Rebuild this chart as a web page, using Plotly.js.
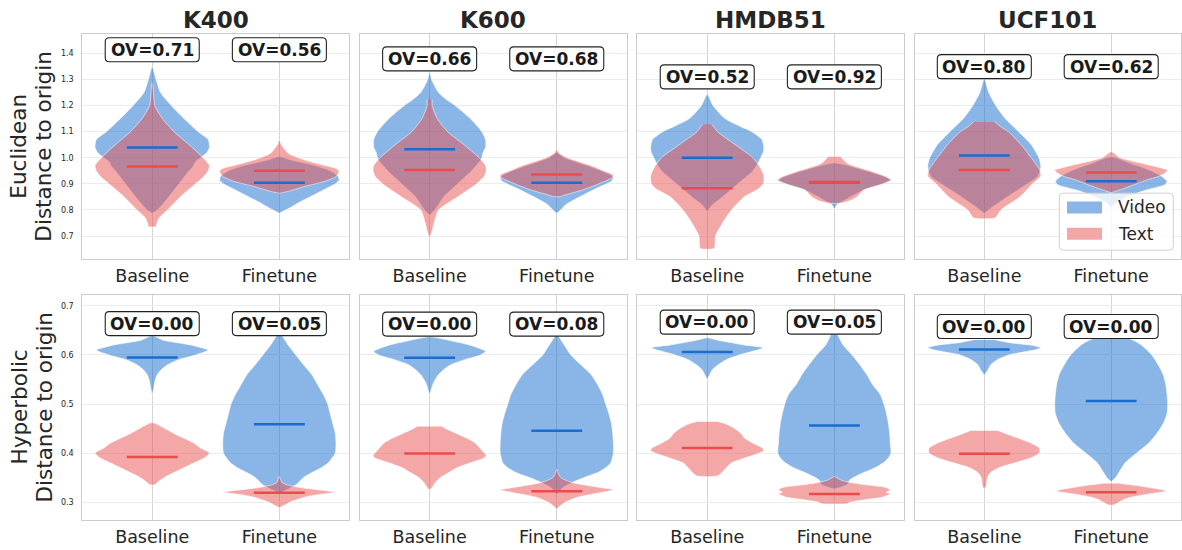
<!DOCTYPE html>
<html><head><meta charset="utf-8">
<script src="https://cdn.plot.ly/plotly-3.0.1.min.js"></script>
<style>html,body{margin:0;padding:0;background:#fff;} #chart{width:1182px;height:550px;}</style>
</head><body><div id="chart"></div>
<script>
// ---------------- DATA ----------------
const datasets = ['K400', 'K600', 'HMDB51', 'UCF101'];
const categories = ['Baseline', 'Finetune'];
const seriesNames = ['Video', 'Text'];
const metricLabels = [['Euclidean', 'Distance to origin'], ['Hyperbolic', 'Distance to origin']];
const eucTicks = [0.7, 0.8, 0.9, 1.0, 1.1, 1.2, 1.3, 1.4];
const hypTicks = [0.3, 0.4, 0.5, 0.6, 0.7];

// overlap values [Baseline, Finetune] per dataset
const eucOV = [[0.71, 0.56], [0.66, 0.68], [0.52, 0.92], [0.80, 0.62]];
const hypOV = [[0.00, 0.05], [0.00, 0.08], [0.00, 0.05], [0.00, 0.00]];

// medians [Baseline, Finetune] per dataset
const eucVideoMedian = [[1.039, 0.904], [1.033, 0.904], [1.000, 0.906], [1.009, 0.910]];
const eucTextMedian  = [[0.966, 0.950], [0.953, 0.936], [0.883, 0.907], [0.953, 0.943]];
const hypVideoMedian = [[0.595, 0.4585], [0.5945, 0.4456], [0.606, 0.456], [0.611, 0.506]];
const hypTextMedian  = [[0.392, 0.319], [0.399, 0.322], [0.410, 0.3163], [0.3986, 0.3197]];

// violin density profiles: distance values (Y) and half-widths (W, category units)
// Euclidean
const eucK400BaseVideoY = [1.349, 1.30, 1.25, 1.20, 1.15, 1.10, 1.07, 1.04, 1.02, 1.00, 0.985, 0.966, 0.95, 0.90, 0.85, 0.80, 0.787];
const eucK400BaseVideoW = [0, 0.03, 0.065, 0.15, 0.25, 0.36, 0.44, 0.45, 0.43, 0.38, 0.34, 0.32, 0.29, 0.21, 0.13, 0.04, 0];
const eucK400BaseTextY  = [1.285, 1.25, 1.20, 1.15, 1.10, 1.05, 1.00, 0.97, 0.95, 0.93, 0.90, 0.85, 0.80, 0.77, 0.745, 0.736];
const eucK400BaseTextW  = [0.005, 0.01, 0.02, 0.08, 0.17, 0.29, 0.40, 0.45, 0.44, 0.41, 0.34, 0.22, 0.12, 0.055, 0.034, 0.03];
const eucK400FineVideoY = [1.005, 0.99, 0.97, 0.95, 0.93, 0.915, 0.90, 0.89, 0.87, 0.85, 0.83, 0.81, 0.795, 0.787];
const eucK400FineVideoW = [0, 0.10, 0.28, 0.40, 0.46, 0.47, 0.44, 0.40, 0.32, 0.24, 0.16, 0.09, 0.03, 0];
const eucK400FineTextY  = [1.07, 1.05, 1.017, 0.991, 0.97, 0.96, 0.95, 0.93, 0.91, 0.89, 0.87, 0.864];
const eucK400FineTextW  = [0, 0.015, 0.07, 0.20, 0.36, 0.44, 0.47, 0.45, 0.36, 0.20, 0.06, 0];

const eucK600BaseVideoY = [1.33, 1.30, 1.25, 1.22, 1.20, 1.15, 1.10, 1.07, 1.04, 1.02, 1.00, 0.99, 0.95, 0.90, 0.85, 0.80, 0.78];
const eucK600BaseVideoW = [0, 0.015, 0.07, 0.14, 0.20, 0.32, 0.41, 0.44, 0.44, 0.42, 0.41, 0.40, 0.33, 0.22, 0.11, 0.04, 0];
const eucK600BaseTextY  = [1.224, 1.20, 1.15, 1.10, 1.05, 1.00, 0.97, 0.95, 0.93, 0.90, 0.85, 0.80, 0.75, 0.72, 0.691];
const eucK600BaseTextW  = [0.02, 0.02, 0.06, 0.14, 0.27, 0.39, 0.44, 0.445, 0.43, 0.37, 0.22, 0.07, 0.035, 0.02, 0];
const eucK600FineVideoY = [1.02, 1.00, 0.97, 0.95, 0.935, 0.925, 0.91, 0.90, 0.88, 0.86, 0.84, 0.82, 0.80, 0.787];
const eucK600FineVideoW = [0, 0.06, 0.24, 0.35, 0.42, 0.445, 0.43, 0.39, 0.30, 0.22, 0.14, 0.07, 0.03, 0];
const eucK600FineTextY  = [1.032, 1.017, 1.00, 0.97, 0.95, 0.934, 0.925, 0.90, 0.876, 0.858, 0.851];
const eucK600FineTextW  = [0, 0.02, 0.085, 0.27, 0.37, 0.445, 0.44, 0.33, 0.20, 0.07, 0.025];

const eucHMDBBaseVideoY = [1.243, 1.20, 1.15, 1.12, 1.10, 1.07, 1.04, 1.02, 1.00, 0.98, 0.95, 0.90, 0.85, 0.82, 0.793];
const eucHMDBBaseVideoW = [0, 0.045, 0.14, 0.26, 0.35, 0.43, 0.445, 0.44, 0.42, 0.40, 0.36, 0.24, 0.12, 0.04, 0];
const eucHMDBBaseTextY  = [1.128, 1.10, 1.05, 1.00, 0.96, 0.93, 0.90, 0.88, 0.85, 0.80, 0.75, 0.70, 0.653];
const eucHMDBBaseTextW  = [0.037, 0.08, 0.22, 0.36, 0.42, 0.445, 0.44, 0.40, 0.29, 0.19, 0.12, 0.065, 0.055];
const eucHMDBFineVideoY = [0.98, 0.95, 0.927, 0.915, 0.90, 0.876, 0.851, 0.832, 0.82, 0.802];
const eucHMDBFineVideoW = [0, 0.25, 0.40, 0.45, 0.39, 0.23, 0.13, 0.06, 0.02, 0];
const eucHMDBFineTextY  = [1.004, 0.979, 0.96, 0.95, 0.927, 0.915, 0.90, 0.876, 0.851, 0.835, 0.826];
const eucHMDBFineTextW  = [0.05, 0.10, 0.21, 0.28, 0.41, 0.44, 0.38, 0.23, 0.18, 0.12, 0.05];

const eucUCFBaseVideoY = [1.304, 1.25, 1.20, 1.15, 1.10, 1.05, 1.00, 0.97, 0.95, 0.928, 0.90, 0.85, 0.81, 0.787];
const eucUCFBaseVideoW = [0, 0.035, 0.09, 0.165, 0.27, 0.37, 0.43, 0.445, 0.44, 0.42, 0.34, 0.18, 0.06, 0];
const eucUCFBaseTextY  = [1.137, 1.12, 1.10, 1.05, 1.00, 0.97, 0.95, 0.93, 0.90, 0.85, 0.80, 0.77];
const eucUCFBaseTextW  = [0.085, 0.125, 0.19, 0.29, 0.37, 0.415, 0.44, 0.445, 0.38, 0.28, 0.13, 0.085];
const eucUCFFineVideoY = [1.004, 0.979, 0.953, 0.928, 0.909, 0.896, 0.877, 0.857, 0.838, 0.823, 0.81];
const eucUCFFineVideoW = [0, 0.15, 0.30, 0.40, 0.44, 0.42, 0.28, 0.16, 0.08, 0.03, 0];
const eucUCFFineTextY  = [1.023, 1.00, 0.979, 0.96, 0.953, 0.94, 0.928, 0.915, 0.90, 0.882, 0.866];
const eucUCFFineTextW  = [0, 0.07, 0.24, 0.40, 0.445, 0.42, 0.37, 0.28, 0.20, 0.10, 0];

// Hyperbolic
const hypK400BaseVideoY = [0.6395, 0.63, 0.62, 0.61, 0.60, 0.59, 0.58, 0.57, 0.56, 0.55, 0.53, 0.518];
const hypK400BaseVideoW = [0, 0.09, 0.31, 0.44, 0.34, 0.20, 0.12, 0.07, 0.04, 0.025, 0.01, 0];
const hypK400BaseTextY  = [0.462, 0.45, 0.44, 0.43, 0.42, 0.41, 0.40, 0.39, 0.38, 0.37, 0.36, 0.35, 0.34, 0.335];
const hypK400BaseTextW  = [0, 0.10, 0.17, 0.25, 0.33, 0.38, 0.45, 0.41, 0.33, 0.25, 0.17, 0.095, 0.04, 0.02];
const hypK400FineVideoY = [0.645, 0.64, 0.62, 0.60, 0.58, 0.56, 0.54, 0.52, 0.50, 0.48, 0.46, 0.44, 0.42, 0.40, 0.38, 0.37, 0.36, 0.35, 0.335, 0.328, 0.318];
const hypK400FineVideoW = [0, 0.02, 0.07, 0.13, 0.19, 0.255, 0.30, 0.345, 0.38, 0.40, 0.42, 0.44, 0.445, 0.44, 0.385, 0.33, 0.255, 0.19, 0.13, 0.08, 0];
const hypK400FineTextY  = [0.352, 0.34, 0.335, 0.33, 0.325, 0.32, 0.315, 0.31, 0.30, 0.295, 0.2884];
const hypK400FineTextW  = [0, 0.02, 0.06, 0.15, 0.30, 0.44, 0.30, 0.20, 0.085, 0.05, 0];

const hypK600BaseVideoY = [0.637, 0.63, 0.62, 0.61, 0.607, 0.60, 0.59, 0.58, 0.57, 0.56, 0.55, 0.54, 0.518];
const hypK600BaseVideoW = [0, 0.15, 0.32, 0.425, 0.44, 0.40, 0.27, 0.165, 0.11, 0.07, 0.045, 0.025, 0];
const hypK600BaseTextY  = [0.454, 0.45, 0.44, 0.43, 0.42, 0.41, 0.40, 0.395, 0.39, 0.38, 0.37, 0.36, 0.35, 0.34, 0.3265];
const hypK600BaseTextW  = [0.10, 0.125, 0.21, 0.295, 0.36, 0.395, 0.43, 0.445, 0.43, 0.32, 0.215, 0.15, 0.085, 0.045, 0.01];
const hypK600FineVideoY = [0.641, 0.62, 0.60, 0.58, 0.56, 0.54, 0.52, 0.50, 0.48, 0.46, 0.44, 0.42, 0.40, 0.38, 0.37, 0.36, 0.35, 0.34, 0.33, 0.3155];
const hypK600FineVideoW = [0, 0.06, 0.11, 0.19, 0.27, 0.32, 0.36, 0.385, 0.41, 0.43, 0.44, 0.445, 0.445, 0.425, 0.385, 0.32, 0.215, 0.12, 0.05, 0];
const hypK600FineTextY  = [0.367, 0.36, 0.35, 0.34, 0.33, 0.325, 0.32, 0.31, 0.30, 0.295, 0.2857];
const hypK600FineTextW  = [0, 0.01, 0.03, 0.12, 0.33, 0.445, 0.36, 0.165, 0.07, 0.04, 0];

const hypHMDBBaseVideoY = [0.635, 0.63, 0.62, 0.615, 0.61, 0.60, 0.59, 0.58, 0.57, 0.56, 0.55];
const hypHMDBBaseVideoW = [0, 0.085, 0.30, 0.44, 0.39, 0.25, 0.145, 0.085, 0.04, 0.02, 0];
const hypHMDBBaseTextY  = [0.464, 0.46, 0.45, 0.44, 0.43, 0.42, 0.41, 0.405, 0.40, 0.39, 0.38, 0.37, 0.3537];
const hypHMDBBaseTextW  = [0.085, 0.14, 0.215, 0.265, 0.295, 0.36, 0.435, 0.445, 0.41, 0.295, 0.19, 0.15, 0.085];
const hypHMDBFineVideoY = [0.644, 0.64, 0.62, 0.60, 0.58, 0.56, 0.54, 0.52, 0.50, 0.48, 0.46, 0.44, 0.42, 0.40, 0.39, 0.38, 0.37, 0.36, 0.35, 0.345, 0.335, 0.3265];
const hypHMDBFineVideoW = [0.026, 0.03, 0.07, 0.14, 0.20, 0.255, 0.30, 0.36, 0.39, 0.41, 0.425, 0.435, 0.44, 0.445, 0.425, 0.385, 0.32, 0.23, 0.15, 0.12, 0.10, 0];
const hypHMDBFineTextY  = [0.352, 0.345, 0.34, 0.335, 0.33, 0.325, 0.32, 0.317, 0.31, 0.305, 0.30, 0.2966];
const hypHMDBFineTextW  = [0, 0.05, 0.125, 0.25, 0.40, 0.44, 0.41, 0.44, 0.38, 0.25, 0.13, 0.10];

const hypUCFBaseVideoY = [0.6306, 0.625, 0.62, 0.615, 0.61, 0.60, 0.59, 0.58, 0.57, 0.559];
const hypUCFBaseVideoW = [0.09, 0.20, 0.37, 0.445, 0.39, 0.19, 0.10, 0.05, 0.03, 0];
const hypUCFBaseTextY  = [0.4456, 0.44, 0.43, 0.42, 0.41, 0.40, 0.39, 0.38, 0.37, 0.36, 0.35, 0.329];
const hypUCFBaseTextW  = [0.11, 0.165, 0.27, 0.37, 0.435, 0.435, 0.365, 0.24, 0.115, 0.05, 0.025, 0.01];
const hypUCFFineVideoY = [0.686, 0.66, 0.64, 0.63, 0.62, 0.60, 0.58, 0.56, 0.54, 0.52, 0.50, 0.48, 0.46, 0.44, 0.42, 0.40, 0.38, 0.36, 0.35, 0.3415];
const hypUCFFineVideoW = [0, 0.02, 0.09, 0.175, 0.24, 0.32, 0.37, 0.41, 0.43, 0.44, 0.445, 0.44, 0.41, 0.36, 0.295, 0.20, 0.11, 0.06, 0.035, 0];
const hypUCFFineTextY  = [0.338, 0.335, 0.33, 0.325, 0.322, 0.32, 0.315, 0.31, 0.305, 0.294];
const hypUCFFineTextW  = [0.07, 0.16, 0.29, 0.40, 0.44, 0.385, 0.26, 0.16, 0.10, 0.02];

// ---------------- ASSEMBLY ----------------
const P = (y, w) => ({y: y, w: w});
// profiles[metric][dataset][category][series]
const profiles = [
  [
    [[P(eucK400BaseVideoY, eucK400BaseVideoW), P(eucK400BaseTextY, eucK400BaseTextW)], [P(eucK400FineVideoY, eucK400FineVideoW), P(eucK400FineTextY, eucK400FineTextW)]],
    [[P(eucK600BaseVideoY, eucK600BaseVideoW), P(eucK600BaseTextY, eucK600BaseTextW)], [P(eucK600FineVideoY, eucK600FineVideoW), P(eucK600FineTextY, eucK600FineTextW)]],
    [[P(eucHMDBBaseVideoY, eucHMDBBaseVideoW), P(eucHMDBBaseTextY, eucHMDBBaseTextW)], [P(eucHMDBFineVideoY, eucHMDBFineVideoW), P(eucHMDBFineTextY, eucHMDBFineTextW)]],
    [[P(eucUCFBaseVideoY, eucUCFBaseVideoW), P(eucUCFBaseTextY, eucUCFBaseTextW)], [P(eucUCFFineVideoY, eucUCFFineVideoW), P(eucUCFFineTextY, eucUCFFineTextW)]]
  ],
  [
    [[P(hypK400BaseVideoY, hypK400BaseVideoW), P(hypK400BaseTextY, hypK400BaseTextW)], [P(hypK400FineVideoY, hypK400FineVideoW), P(hypK400FineTextY, hypK400FineTextW)]],
    [[P(hypK600BaseVideoY, hypK600BaseVideoW), P(hypK600BaseTextY, hypK600BaseTextW)], [P(hypK600FineVideoY, hypK600FineVideoW), P(hypK600FineTextY, hypK600FineTextW)]],
    [[P(hypHMDBBaseVideoY, hypHMDBBaseVideoW), P(hypHMDBBaseTextY, hypHMDBBaseTextW)], [P(hypHMDBFineVideoY, hypHMDBFineVideoW), P(hypHMDBFineTextY, hypHMDBFineTextW)]],
    [[P(hypUCFBaseVideoY, hypUCFBaseVideoW), P(hypUCFBaseTextY, hypUCFBaseTextW)], [P(hypUCFFineVideoY, hypUCFFineVideoW), P(hypUCFFineTextY, hypUCFFineTextW)]]
  ]
];
const medians = [[eucVideoMedian, eucTextMedian], [hypVideoMedian, hypTextMedian]];
const ovs = [eucOV, hypOV];
const ticks = [eucTicks, hypTicks];

// ---------------- STYLE / LAYOUT ----------------
const FW = 1182, FH = 550;
const FONT = 'DejaVu Sans, Liberation Sans, sans-serif';
const TXT = '#262626';
const fillColors = ['rgba(19,109,207,0.5)', 'rgba(233,79,79,0.5)'];
const lineColors = ['#1a6dd0', '#eb4b4b'];
const colPx = [[82.3, 349.3], [359.7, 626.7], [637.3, 904.3], [914.5, 1181]];
const rowPx = [[34.3, 259], [295, 520]];
const yRanges = [[0.612, 1.473], [0.2633, 0.7224]];
const ovYPos = [[1.414, 1.379, 1.31, 1.349], [0.664, 0.663, 0.667, 0.658]];
const px2x = p => p / FW;
const px2y = p => 1 - p / FH;

function roundRect(w, h, r) {
  const a = w / 2, b = h / 2;
  return `M ${-a + r},${-b} L ${a - r},${-b} Q ${a},${-b} ${a},${-b + r} L ${a},${b - r} Q ${a},${b} ${a - r},${b} L ${-a + r},${b} Q ${-a},${b} ${-a},${b - r} L ${-a},${-b + r} Q ${-a},${-b} ${-a + r},${-b} Z`;
}

const traces = [];
const layout = {
  width: FW, height: FH,
  margin: {l: 0, r: 0, t: 0, b: 0},
  paper_bgcolor: '#ffffff', plot_bgcolor: '#ffffff',
  showlegend: false,
  font: {family: FONT, color: TXT},
  annotations: [], shapes: []
};

for (let r = 0; r < 2; r++) {
  for (let c = 0; c < 4; c++) {
    const n = r * 4 + c + 1;
    const xa = 'x' + (n === 1 ? '' : n), ya = 'y' + (n === 1 ? '' : n);
    const xk = 'xaxis' + (n === 1 ? '' : n), yk = 'yaxis' + (n === 1 ? '' : n);
    layout[xk] = {
      domain: [px2x(colPx[c][0]), px2x(colPx[c][1])],
      anchor: ya, range: [-0.55, 1.55],
      tickvals: [0, 1], ticktext: categories,
      tickfont: {size: 17.5, family: FONT, color: TXT},
      ticks: '', ticklabelstandoff: 1,
      showgrid: true, gridcolor: '#d4d4d4', gridwidth: 1,
      zeroline: false, showline: true, linecolor: '#cccccc', linewidth: 1, mirror: true,
      fixedrange: true
    };
    layout[yk] = {
      domain: [px2y(rowPx[r][1]), px2y(rowPx[r][0])],
      anchor: xa, range: yRanges[r],
      tickvals: ticks[r], tickformat: '.1f',
      showticklabels: c === 0,
      tickfont: {size: 8, family: FONT, color: TXT},
      ticks: '', ticklabelstandoff: 6,
      showgrid: true, gridcolor: '#ececec', gridwidth: 1,
      zeroline: false, showline: true, linecolor: '#cccccc', linewidth: 1, mirror: true,
      fixedrange: true
    };
    for (let k = 0; k < 2; k++) {
      for (let s = 0; s < 2; s++) {
        const pr = profiles[r][c][k][s];
        const xs = pr.w.map(w => k + w).concat(pr.w.slice().reverse().map(w => k - w));
        const ys = pr.y.concat(pr.y.slice().reverse());
        traces.push({
          type: 'scatter', mode: 'lines', x: xs, y: ys, xaxis: xa, yaxis: ya,
          fill: 'toself', fillcolor: fillColors[s],
          line: {color: 'rgba(255,255,255,0.55)', width: 1, shape: 'spline', smoothing: 0.6},
          name: seriesNames[s], hoverinfo: 'skip', showlegend: false
        });
      }
    }
    for (let k = 0; k < 2; k++) {
      for (let s = 0; s < 2; s++) {
        const m = medians[r][s][c][k];
        traces.push({
          type: 'scatter', mode: 'lines', x: [k - 0.2, k + 0.2], y: [m, m], xaxis: xa, yaxis: ya,
          line: {color: lineColors[s], width: 2.5}, hoverinfo: 'skip', showlegend: false
        });
      }
      // OV label box and text
      layout.shapes.push({
        type: 'path', xref: xa, yref: ya, xsizemode: 'pixel', ysizemode: 'pixel',
        xanchor: k, yanchor: ovYPos[r][c], path: roundRect(94, 24, 4),
        fillcolor: '#ffffff', line: {color: '#222222', width: 1.1}, layer: 'above'
      });
      layout.annotations.push({
        xref: xa, yref: ya, x: k, y: ovYPos[r][c], showarrow: false,
        text: '<b>OV=' + ovs[r][c][k].toFixed(2) + '</b>',
        font: {size: 17, family: FONT, color: '#1a1a1a'}
      });
    }
    if (r === 0) {
      layout.annotations.push({
        xref: 'paper', yref: 'paper', x: px2x((colPx[c][0] + colPx[c][1]) / 2), y: px2y(20),
        text: '<b>' + datasets[c] + '</b>', showarrow: false,
        font: {size: 23, family: FONT, color: TXT}, xanchor: 'center', yanchor: 'middle'
      });
    }
  }
  // y-axis labels (two lines)
  const yc = px2y((rowPx[r][0] + rowPx[r][1]) / 2);
  [19, 44].forEach((xp, i) => {
    layout.annotations.push({
      xref: 'paper', yref: 'paper', x: px2x(xp), y: yc, text: metricLabels[r][i],
      textangle: -90, showarrow: false, xanchor: 'center', yanchor: 'middle',
      font: {size: 21.5, family: FONT, color: TXT}
    });
  });
}

// Legend (drawn manually, matplotlib style)
layout.shapes.push({
  type: 'path', xref: 'paper', yref: 'paper', xsizemode: 'pixel', ysizemode: 'pixel',
  xanchor: px2x(1116.3), yanchor: px2y(221.7), path: roundRect(114, 57, 4),
  fillcolor: 'rgba(255,255,255,0.8)', line: {color: '#d0d0d0', width: 1}, layer: 'above'
});
const legendRowsPx = [207.5, 233.8];
seriesNames.forEach((nm, s) => {
  layout.shapes.push({
    type: 'rect', xref: 'paper', yref: 'paper',
    x0: px2x(1067), x1: px2x(1102), y0: px2y(legendRowsPx[s] + 6), y1: px2y(legendRowsPx[s] - 6),
    fillcolor: fillColors[s], line: {width: 0}, layer: 'above'
  });
  layout.annotations.push({
    xref: 'paper', yref: 'paper', x: px2x(1116), y: px2y(legendRowsPx[s]),
    xanchor: 'left', yanchor: 'middle', text: nm, showarrow: false,
    font: {size: 17, family: FONT, color: TXT}
  });
});

Plotly.newPlot('chart', traces, layout, {staticPlot: true, displayModeBar: false});
</script></body></html>
